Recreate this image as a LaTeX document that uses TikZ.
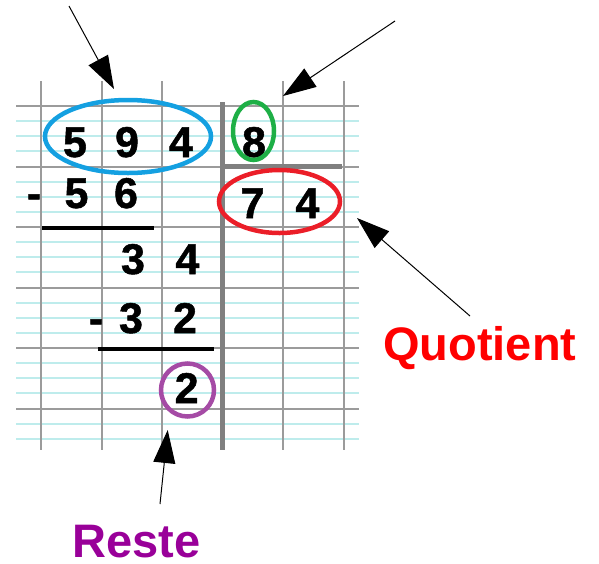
\documentclass[tikz,border=0pt]{standalone}
\usepackage{fontspec}
\setmainfont{Liberation Sans}
\newfontfamily\heavyfont[FakeBold=1.2]{Liberation Sans}
\usetikzlibrary{arrows.meta,shapes.geometric}
\definecolor{gridgray}{RGB}{155,155,155}
\definecolor{ruled}{RGB}{190,236,236}
\definecolor{thickgray}{RGB}{128,128,128}
\definecolor{eblue}{RGB}{20,160,225}
\definecolor{egreen}{RGB}{30,175,70}
\definecolor{ered}{RGB}{235,30,40}
\definecolor{epurple}{RGB}{165,75,165}
\definecolor{quotred}{RGB}{255,0,0}
\definecolor{restepurple}{RGB}{153,0,153}
\begin{document}
\begin{tikzpicture}[x=1pt,y=-1pt,
  digit/.style={font=\fontsize{43}{43}\heavyfont\bfseries, inner sep=0, anchor=base},
  ring/.style={draw, line width=4.5pt, inner sep=0},
  pointer/.style={line width=1pt, -{Triangle[length=33pt,width=22pt]}},
  tag/.style={font=\fontsize{47}{47}\selectfont\bfseries, inner sep=0, anchor=base west},
  rule/.style={ruled, line width=2pt},
  gridline/.style={gridgray, line width=2pt},
  bar/.style={thickgray, line width=5pt},
  underline/.style={black, line width=4pt}
]
\useasboundingbox (0,0) rectangle (599,563);
% pale ruling
\foreach \y in {121.1,136.2,151.3, 181.6,196.7,211.8, 242.1,257.2,272.3, 302.6,317.7,332.8, 363.1,378.2,393.3, 423.6,438.7}
  \draw[rule] (16,\y) -- (359,\y);
% grid
\foreach \y in {106,166.5,227,287.5,348,408.5}
  \draw[gridline] (16,\y) -- (359,\y);
\foreach \x in {41,101.5,162,283,343.5}
  \draw[gridline] (\x,81) -- (\x,450);
% division bars
\draw[bar] (222.5,102) -- (222.5,450);
\draw[bar] (222.5,166.5) -- (342,166.5);
% subtraction lines
\draw[underline] (42,228) -- (154,228);
\draw[underline] (98,349) -- (214,349);
% digits
\node[digit] (d5) at (75,157) {5};
\node[digit] (d9) at (127,157) {9};
\node[digit] (d4) at (181,157) {4};
\node[digit] (dv) at (254,157) {8};
\node[digit] (m1) at (34,208) {-};
\node[digit] (s5) at (76.5,208) {5};
\node[digit] (s6) at (126,208) {6};
\node[digit] (q7) at (252.5,218) {7};
\node[digit] (q4) at (307.5,218) {4};
\node[digit] (r3) at (133,274) {3};
\node[digit] (r4) at (187.5,274) {4};
\node[digit] (m2) at (96,333) {-};
\node[digit] (t3) at (131,333) {3};
\node[digit] (t2) at (185,333) {2};
\node[digit] (rem) at (186.7,403) {2};
% rings
\node[ring, eblue, ellipse, minimum width=166pt, minimum height=73pt] (dividend) at (128,136.5) {};
\node[ring, egreen, ellipse, minimum width=41pt, minimum height=58pt] (divisor) at (253.5,131) {};
\node[ring, ered, ellipse, minimum width=121pt, minimum height=63pt] (quotient) at (279.5,201.5) {};
\node[ring, epurple, circle, minimum size=53pt] (reste) at (187.5,390) {};
% labels
\node[tag, quotred] (qlabel) at (383,360) {Quotient};
\node[tag, restepurple] (rlabel) at (72,557) {Reste};
% arrows
\coordinate (a1s) at (69,6);
\coordinate (a1t) at (114,89);
\coordinate (a2s) at (395,21);
\coordinate (a2t) at (283,96);
\coordinate (a3s) at (470,316);
\coordinate (a3t) at (357,218);
\coordinate (a4s) at (160,504);
\coordinate (a4t) at (167.7,430);
\draw[pointer] (a1s) -- (a1t);
\draw[pointer] (a2s) -- (a2t);
\draw[pointer] (a3s) -- (a3t);
\draw[pointer] (a4s) -- (a4t);
\end{tikzpicture}
\end{document}
